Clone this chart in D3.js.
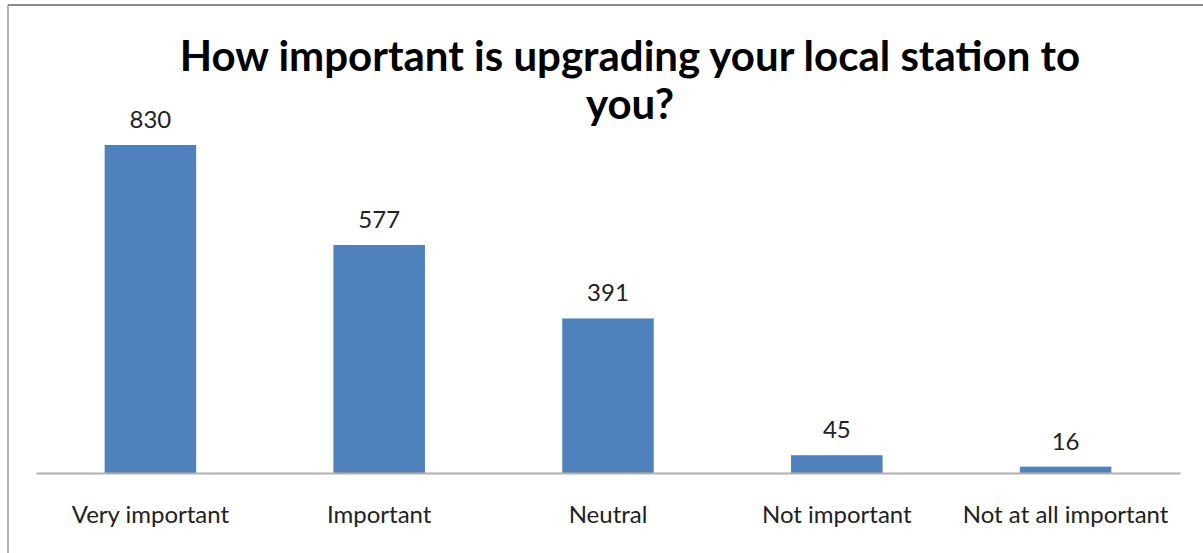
<!DOCTYPE html>
<html>
<head>
<meta charset="utf-8">
<script src="https://cdn.jsdelivr.net/npm/d3@7"></script>
<style>
  body { margin: 0; background: #fff; }
  svg { display: block; }
</style>
</head>
<body>
<div id="chart"></div>
<script>
// Datos del gráfico
const categories = ["Very important", "Important", "Neutral", "Not important", "Not at all important"];
const values = [830, 577, 391, 45, 16];
const titleLines = ["How important is upgrading your local station to", "you?"];

const W = 1203, H = 553;
const font = "Lato, 'Open Sans', sans-serif";

const svg = d3.select("#chart").append("svg")
    .attr("width", W)
    .attr("height", H);

svg.append("rect").attr("width", W).attr("height", H).attr("fill", "#fff");

// Borde del área del gráfico
svg.append("line")
    .attr("x1", 8).attr("y1", 5).attr("x2", W).attr("y2", 5)
    .attr("stroke", "#8a8a8a").attr("stroke-width", 2);
svg.append("line")
    .attr("x1", 8).attr("y1", 5).attr("x2", 8).attr("y2", H)
    .attr("stroke", "#9a9a9a").attr("stroke-width", 1.5);

// Escalas
const x = d3.scaleBand()
    .domain(categories)
    .range([36, 1180])
    .paddingInner(0.6)
    .paddingOuter(0.3);

const y = d3.scaleLinear()
    .domain([0, 830])
    .range([473, 145]);

// Barras
svg.selectAll(".bar")
    .data(values)
    .enter()
    .append("rect")
    .attr("class", "bar")
    .attr("x", (d, i) => x(categories[i]))
    .attr("y", d => y(d))
    .attr("width", x.bandwidth())
    .attr("height", d => y(0) - y(d))
    .attr("fill", "#4f81bd");

// Eje X
const xAxis = svg.append("g")
    .attr("transform", `translate(0, ${y(0)})`)
    .call(d3.axisBottom(x).tickSize(0).tickPadding(33));
xAxis.select(".domain").attr("stroke", "#b0b0b0").attr("stroke-width", 2);
xAxis.selectAll("text")
    .attr("font-family", font)
    .attr("font-size", "24px")
    .attr("fill", "#222");

// Etiquetas de valores
svg.selectAll(".value-label")
    .data(values)
    .enter()
    .append("text")
    .attr("class", "value-label")
    .attr("x", (d, i) => x(categories[i]) + x.bandwidth() / 2)
    .attr("y", d => y(d) - 17)
    .attr("text-anchor", "middle")
    .attr("font-family", font)
    .attr("font-size", "24px")
    .attr("fill", "#222")
    .text(d => d);

// Título
svg.selectAll(".title")
    .data(titleLines)
    .enter()
    .append("text")
    .attr("class", "title")
    .attr("x", 630)
    .attr("y", (d, i) => 71 + i * 48)
    .attr("text-anchor", "middle")
    .attr("font-family", font)
    .attr("font-size", "42px")
    .attr("font-weight", "bold")
    .attr("fill", "#000")
    .text(d => d);
</script>
</body>
</html>
